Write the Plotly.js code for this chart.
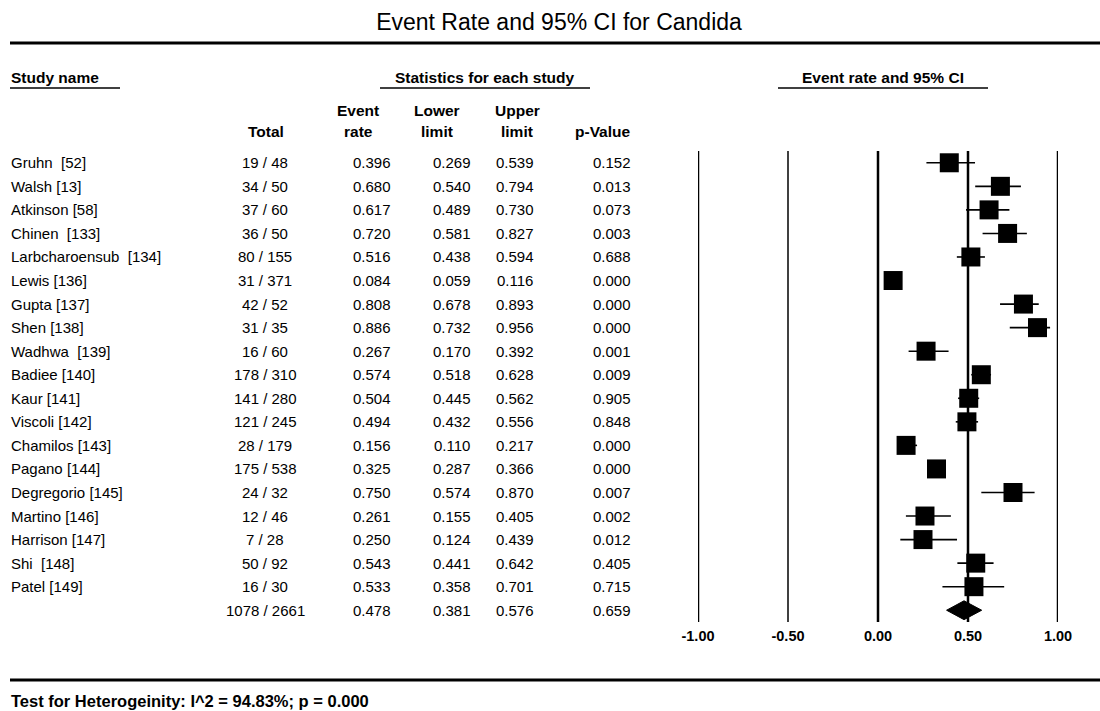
<!DOCTYPE html>
<html><head><meta charset="utf-8">
<script src="https://cdn.plot.ly/plotly-3.0.1.min.js"></script>
<style>html,body{margin:0;padding:0;background:#fff}#chart{width:1100px;height:711px}</style>
</head><body><div id="chart"></div>
<script>
const studies = ["Gruhn\u00a0 [52]","Walsh [13]","Atkinson [58]","Chinen\u00a0 [133]","Larbcharoensub\u00a0 [134]","Lewis [136]","Gupta [137]","Shen [138]","Wadhwa\u00a0 [139]","Badiee [140]","Kaur [141]","Viscoli [142]","Chamilos [143]","Pagano [144]","Degregorio [145]","Martino [146]","Harrison [147]","Shi\u00a0 [148]","Patel [149]"];
const totals = ["19 / 48","34 / 50","37 / 60","36 / 50","80 / 155","31 / 371","42 / 52","31 / 35","16 / 60","178 / 310","141 / 280","121 / 245","28 / 179","175 / 538","24 / 32","12 / 46","7 / 28","50 / 92","16 / 30"];
const eventRate = [0.396,0.680,0.617,0.720,0.516,0.084,0.808,0.886,0.267,0.574,0.504,0.494,0.156,0.325,0.750,0.261,0.250,0.543,0.533];
const lowerLimit = [0.269,0.540,0.489,0.581,0.438,0.059,0.678,0.732,0.170,0.518,0.445,0.432,0.110,0.287,0.574,0.155,0.124,0.441,0.358];
const upperLimit = [0.539,0.794,0.730,0.827,0.594,0.116,0.893,0.956,0.392,0.628,0.562,0.556,0.217,0.366,0.870,0.405,0.439,0.642,0.701];
const pValue = ["0.152","0.013","0.073","0.003","0.688","0.000","0.000","0.000","0.001","0.009","0.905","0.848","0.000","0.000","0.007","0.002","0.012","0.405","0.715"];
const pooledTotal = "1078 / 2661";
const pooledRate = 0.478, pooledLower = 0.381, pooledUpper = 0.576, pooledP = "0.659";
const tickVals = [-1, -0.5, 0, 0.5, 1];
const tickLabels = ["-1.00","-0.50","0.00","0.50","1.00"];
const titleText = "Event Rate and 95% CI for Candida";
const footerText = "Test for Heterogeinity: I^2 = 94.83%; p = 0.000";

const W = 1100, H = 711;
const px = x => x / W;
const py = y => 1 - y / H;
const FONT = "Liberation Sans, Arial, sans-serif";

const rows = studies.map((_, i) => i);
const pooledRow = studies.length;

const traces = [
  {
    type: "scatter", mode: "markers",
    x: eventRate, y: rows,
    marker: {symbol: "square", size: 19, color: "#000"},
    error_x: {type: "data", symmetric: false,
      array: upperLimit.map((u, i) => u - eventRate[i]),
      arrayminus: lowerLimit.map((l, i) => eventRate[i] - l),
      width: 0, thickness: 1.6, color: "#000"},
    hoverinfo: "skip", showlegend: false
  },
  {
    type: "scatter", mode: "lines", fill: "toself", fillcolor: "#000",
    x: [pooledLower, pooledRate, pooledUpper, pooledRate, pooledLower],
    y: [pooledRow, pooledRow - 0.4, pooledRow, pooledRow + 0.4, pooledRow],
    line: {color: "#000", width: 1}, hoverinfo: "skip", showlegend: false
  }
];

const ann = [];
const cell = (x, y, text, anchor) => ann.push({
  xref: "paper", yref: "y", x: px(x), y: y, text: text, showarrow: false,
  xanchor: anchor, yanchor: "middle", font: {family: FONT, size: 15, color: "#000"}
});

studies.forEach((s, i) => {
  cell(9, i, s, "left");
  cell(265, i, totals[i], "center");
  cell(372, i, eventRate[i].toFixed(3), "center");
  cell(452, i, lowerLimit[i].toFixed(3), "center");
  cell(515, i, upperLimit[i].toFixed(3), "center");
  cell(612, i, pValue[i], "center");
});
cell(265, pooledRow, pooledTotal, "center");
cell(372, pooledRow, pooledRate.toFixed(3), "center");
cell(452, pooledRow, pooledLower.toFixed(3), "center");
cell(515, pooledRow, pooledUpper.toFixed(3), "center");
cell(612, pooledRow, pooledP, "center");

const hdr = (x, y, text, anchor) => ann.push({
  xref: "paper", yref: "paper", x: px(x), y: py(y), text: "<b>" + text + "</b>", showarrow: false,
  xanchor: anchor, yanchor: "middle", font: {family: FONT, size: 15.5, color: "#000"}
});
hdr(9, 77, "Study name", "left");
hdr(485, 77, "Statistics for each study", "center");
hdr(883, 77, "Event rate and 95% CI", "center");
hdr(266, 131, "Total", "center");
hdr(358, 110, "Event", "center");
hdr(358, 131, "rate", "center");
hdr(437, 110, "Lower", "center");
hdr(437, 131, "limit", "center");
hdr(517, 110, "Upper", "center");
hdr(517, 131, "limit", "center");
hdr(603, 131, "p-Value", "center");
ann.push({xref: "paper", yref: "paper", x: px(9), y: py(701), text: "<b>" + footerText + "</b>",
  showarrow: false, xanchor: "left", yanchor: "middle", font: {family: FONT, size: 16.5, color: "#000"}});

const shapes = [];
const hline = (x0, x1, y, w) => shapes.push({type: "line", xref: "paper", yref: "paper",
  x0: px(x0), x1: px(x1), y0: py(y), y1: py(y), line: {color: "#000", width: w}});
hline(10, 1100, 43, 3);
hline(10, 1100, 680, 3);
hline(10, 120, 88, 1.5);
hline(380, 590, 88, 1.5);
hline(778, 988, 88, 1.5);
tickVals.forEach(v => shapes.push({type: "line", xref: "x", yref: "y", layer: "below",
  x0: v, x1: v, y0: -0.5, y1: pooledRow + 0.5,
  line: {color: "#000", width: v === -0.5 ? 1.5 : 2.5}}));

const layout = {
  width: W, height: H,
  margin: {l: 0, r: 0, t: 0, b: 0},
  paper_bgcolor: "#fff", plot_bgcolor: "rgba(0,0,0,0)",
  title: {text: titleText, x: px(559), xanchor: "center", y: py(22), yanchor: "middle",
    font: {family: FONT, size: 23, color: "#000"}},
  xaxis: {domain: [px(698), px(1058)], range: [-1, 1], showgrid: false, zeroline: false,
    showline: false, ticks: "", tickvals: tickVals, ticktext: tickLabels,
    tickfont: {family: FONT, size: 14.5, color: "#000", weight: "bold"}, ticklabelstandoff: 3,
    fixedrange: true},
  yaxis: {domain: [py(622), py(151)], range: [pooledRow + 0.5, -0.5], visible: false, fixedrange: true},
  annotations: ann,
  shapes: shapes,
  showlegend: false
};
Plotly.newPlot("chart", traces, layout, {staticPlot: true, displayModeBar: false});
</script></body></html>
